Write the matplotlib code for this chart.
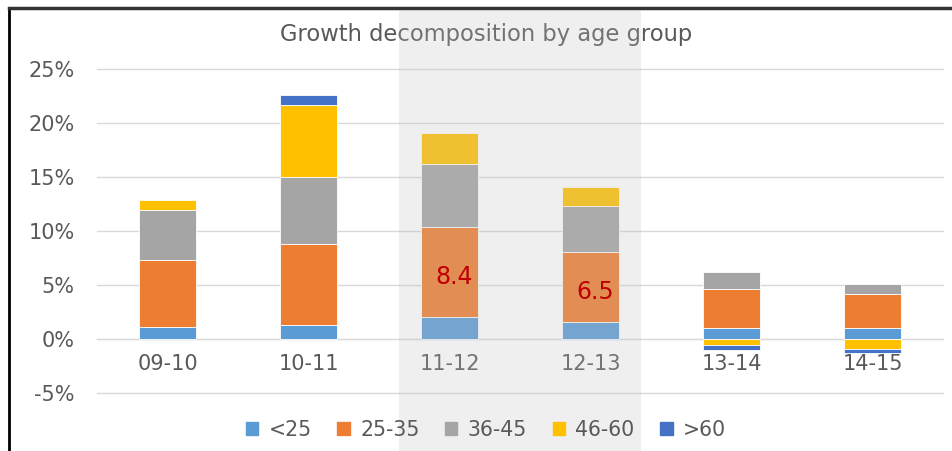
import matplotlib
matplotlib.use("Agg")
import matplotlib.pyplot as plt
import matplotlib.transforms as mtransforms
from matplotlib.patches import Rectangle
from matplotlib.lines import Line2D
import numpy as np

categories = ['09-10', '10-11', '11-12', '12-13', '13-14', '14-15']
under_25 = [1.1, 1.3, 2.0, 1.6, 1.0, 1.0]
age_25_35 = [6.2, 7.5, 8.4, 6.5, 3.6, 3.2]
age_36_45 = [4.6, 6.2, 5.8, 4.2, 1.6, 0.9]
age_46_60 = [1.0, 6.7, 2.9, 1.8, -0.55, -0.95]
over_60 = [-0.1, 0.9, -0.1, -0.1, -0.5, -0.35]

series_labels = ['<25', '25-35', '36-45', '46-60', '>60']
series_colors = ['#5b9bd5', '#ed7d31', '#a5a5a5', '#ffc000', '#4472c4']
highlighted = ['11-12', '12-13']
annotated_series = '25-35'

plt.rcParams['font.family'] = ['DejaVu Sans']
text_color = '#595959'

fig = plt.figure(figsize=(9.52, 4.51), dpi=100)
ax = fig.add_axes([97 / 952, 1 - 393 / 451, (943 - 97) / 952, (393 - 69) / 451])
ax.patch.set_visible(False)

x = np.arange(len(categories))
pos_base = np.zeros(len(categories))
neg_base = np.zeros(len(categories))
all_series = [under_25, age_25_35, age_36_45, age_46_60, over_60]
for label, color, vals in zip(series_labels, series_colors, all_series):
    vals = np.array(vals)
    bottoms = np.where(vals >= 0, pos_base, neg_base)
    ax.bar(x, vals, bottom=bottoms, width=0.41, color=color,
           edgecolor='white', linewidth=0.6, label=label, zorder=3)
    if label == annotated_series:
        # valeurs en rouge, posées au-dessus de la zone grisée
        for i, cat in enumerate(categories):
            if cat in highlighted:
                fig.text(i + 0.03, bottoms[i] + vals[i] / 2 - 0.5, f'{vals[i]:.1f}',
                         transform=ax.transData, color='#c00000', fontsize=17,
                         ha='center', va='center', zorder=7)
    pos_base = pos_base + np.where(vals >= 0, vals, 0)
    neg_base = neg_base + np.where(vals < 0, vals, 0)

ax.set_xlim(-0.5, len(categories) - 0.5)
ax.set_ylim(-5, 25)
ax.set_yticks(np.arange(-5, 26, 5))
ax.set_yticklabels([f'{v}%' for v in range(-5, 26, 5)])
ax.set_xticks(x)
ax.set_xticklabels(categories)
ax.grid(axis='y', color='#d9d9d9', linewidth=1, zorder=0)
for gl in ax.get_ygridlines():
    gl.set_clip_on(False)
for side in ['top', 'right', 'left']:
    ax.spines[side].set_visible(False)
ax.spines['bottom'].set_position(('data', 0))
ax.spines['bottom'].set_color('#d9d9d9')
ax.tick_params(axis='both', length=0, colors=text_color, labelsize=15)
ax.tick_params(axis='y', pad=16)
ax.tick_params(axis='x', pad=11)

# titre
fig.text(486 / 952, 1 - 35 / 451, 'Growth decomposition by age group',
         ha='center', va='center', fontsize=16.3, color=text_color)

handles = [Rectangle((0, 0), 1, 1, color=c) for c in series_colors]
fig.legend(handles, series_labels, loc='center', bbox_to_anchor=(486 / 952, 1 - 430 / 451),
           ncol=5, frameon=False, fontsize=14.8, labelcolor=text_color,
           handlelength=0.6, handleheight=0.6, handletextpad=0.5, columnspacing=1.25)

# zone grisée sur les années mises en avant
idx = [categories.index(c) for c in highlighted]
trans = mtransforms.blended_transform_factory(ax.transData, fig.transFigure)
fig.add_artist(Rectangle((min(idx) - 0.355, 0), max(idx) - min(idx) + 0.71, 1 - 10 / 451,
                         transform=trans, facecolor='#c0c0c0', alpha=0.25,
                         edgecolor='none', zorder=5))

# cadre
fig.add_artist(Line2D([8.5 / 952, 8.5 / 952], [0, 1 - 8 / 451], color='black', linewidth=2))
fig.add_artist(Line2D([8.5 / 952, 1], [1 - 8 / 451, 1 - 8 / 451], color='#333333', linewidth=2.5))

fig.savefig('out.png', dpi=100)
